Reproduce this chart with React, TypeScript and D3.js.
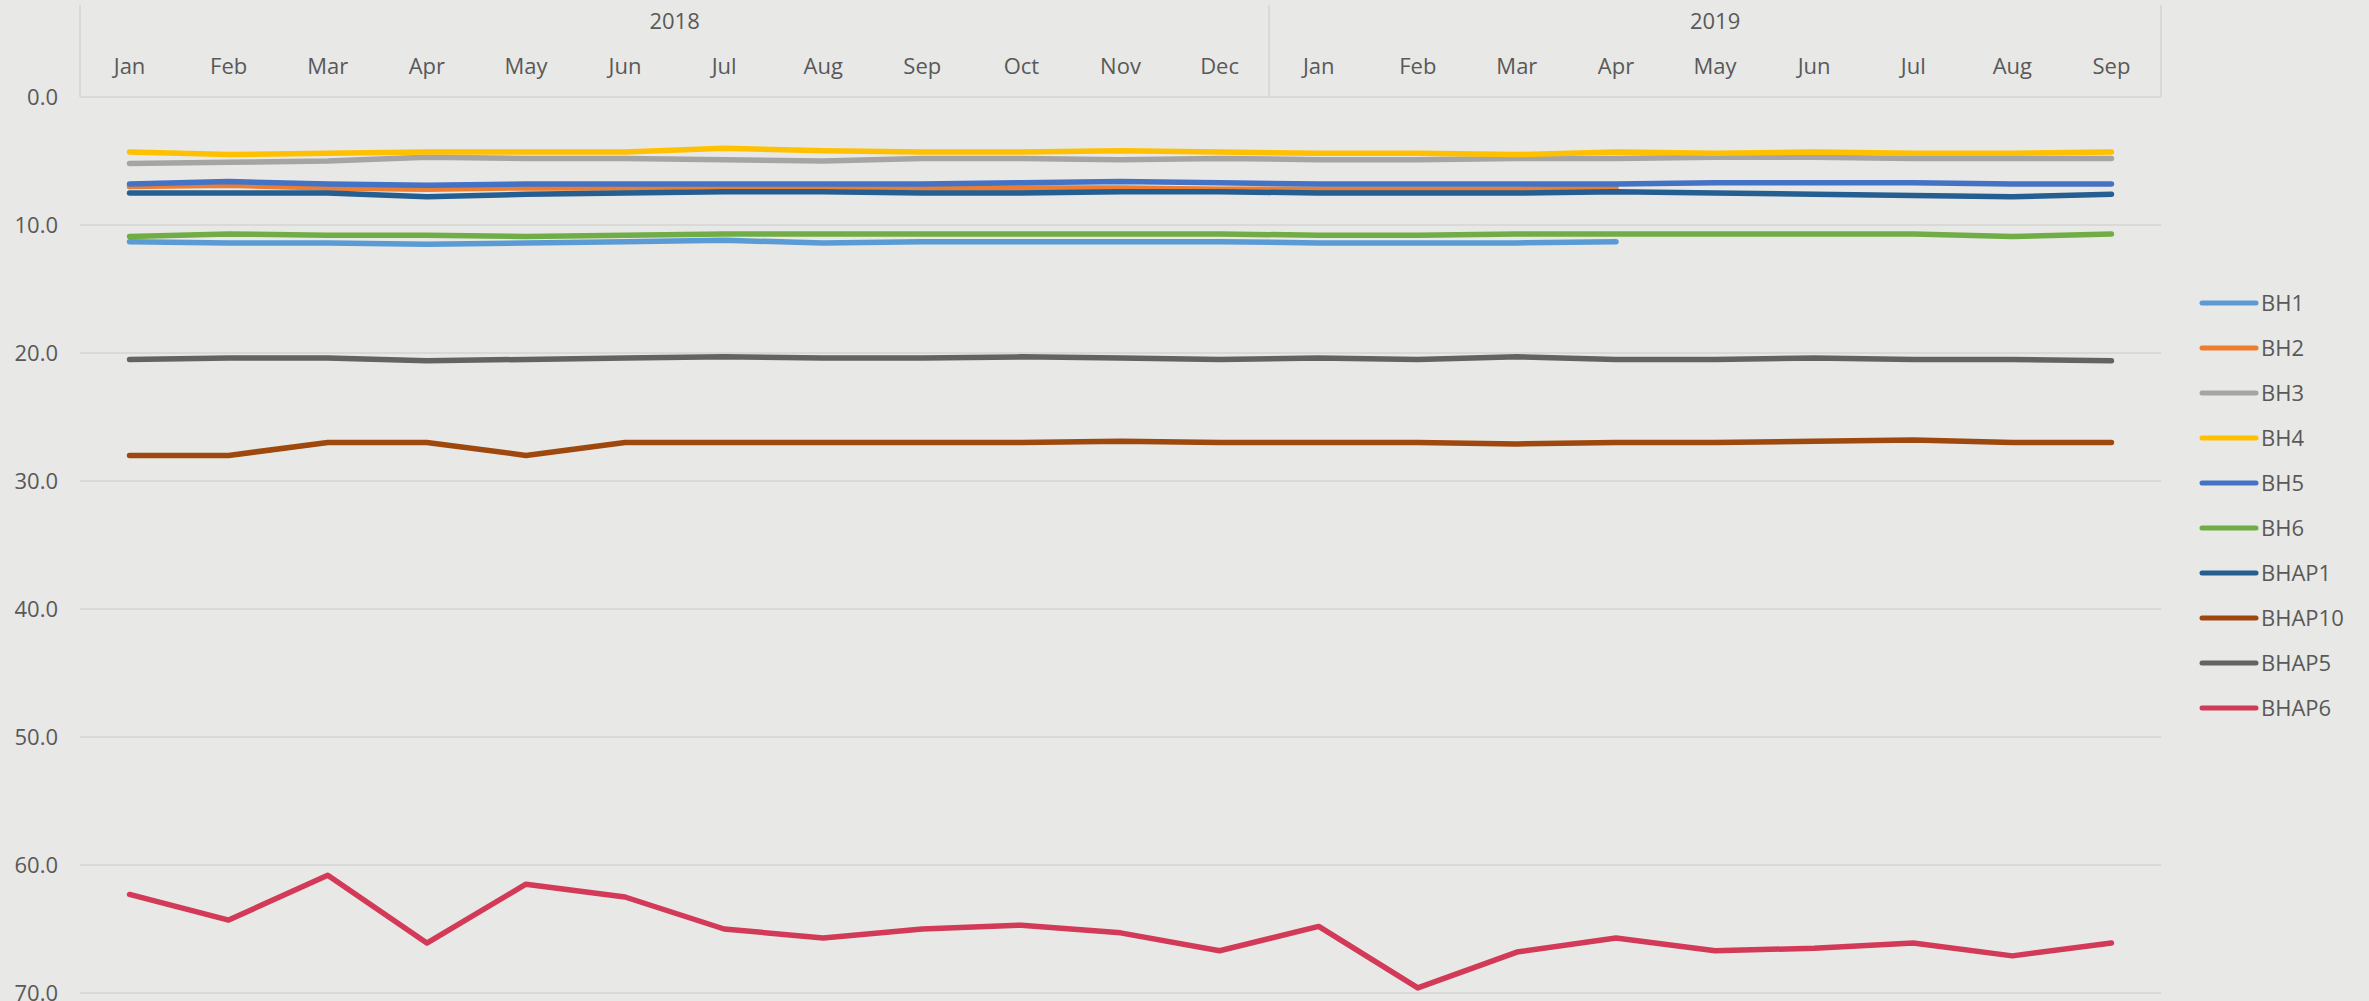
import { useRef, useEffect } from "react";
import { select, scaleBand, scaleLinear, line } from "d3";

const months = [
  "Jan", "Feb", "Mar", "Apr", "May", "Jun", "Jul", "Aug", "Sep", "Oct", "Nov", "Dec",
  "Jan", "Feb", "Mar", "Apr", "May", "Jun", "Jul", "Aug", "Sep",
];
const monthYears = [
  "2018", "2018", "2018", "2018", "2018", "2018", "2018", "2018", "2018", "2018", "2018", "2018",
  "2019", "2019", "2019", "2019", "2019", "2019", "2019", "2019", "2019",
];
const years = ["2018", "2019"];
const yTicks = [0, 10, 20, 30, 40, 50, 60, 70];

const seriesNames = ["BH1", "BH2", "BH3", "BH4", "BH5", "BH6", "BHAP1", "BHAP10", "BHAP5", "BHAP6"];
const seriesColors = [
  "#5B9BD5", "#ED7D31", "#A5A5A5", "#FFC000", "#4472C4",
  "#70AD47", "#255E91", "#9E480E", "#636363", "#D23A58",
];

const bh1 = [11.3, 11.4, 11.4, 11.5, 11.4, 11.3, 11.2, 11.4, 11.3, 11.3, 11.3, 11.3, 11.4, 11.4, 11.4, 11.3, null, null, null, null, null];
const bh2 = [7.0, 6.9, 7.1, 7.2, 7.1, 7.1, 7.0, 7.0, 7.1, 7.1, 7.1, 7.2, 7.2, 7.2, 7.2, 7.1, null, null, null, null, null];
const bh3 = [5.2, 5.1, 5.0, 4.7, 4.8, 4.8, 4.9, 5.0, 4.8, 4.8, 4.9, 4.8, 4.9, 4.9, 4.8, 4.8, 4.7, 4.7, 4.8, 4.8, 4.8];
const bh4 = [4.3, 4.5, 4.4, 4.3, 4.3, 4.3, 4.0, 4.2, 4.3, 4.3, 4.2, 4.3, 4.4, 4.4, 4.5, 4.3, 4.4, 4.3, 4.4, 4.4, 4.3];
const bh5 = [6.8, 6.6, 6.8, 6.9, 6.8, 6.8, 6.8, 6.8, 6.8, 6.7, 6.6, 6.7, 6.8, 6.8, 6.8, 6.8, 6.7, 6.7, 6.7, 6.8, 6.8];
const bh6 = [10.9, 10.7, 10.8, 10.8, 10.9, 10.8, 10.7, 10.7, 10.7, 10.7, 10.7, 10.7, 10.8, 10.8, 10.7, 10.7, 10.7, 10.7, 10.7, 10.9, 10.7];
const bhap1 = [7.5, 7.5, 7.5, 7.8, 7.6, 7.5, 7.4, 7.4, 7.5, 7.5, 7.4, 7.4, 7.5, 7.5, 7.5, 7.4, 7.5, 7.6, 7.7, 7.8, 7.6];
const bhap10 = [28.0, 28.0, 27.0, 27.0, 28.0, 27.0, 27.0, 27.0, 27.0, 27.0, 26.9, 27.0, 27.0, 27.0, 27.1, 27.0, 27.0, 26.9, 26.8, 27.0, 27.0];
const bhap5 = [20.5, 20.4, 20.4, 20.6, 20.5, 20.4, 20.3, 20.4, 20.4, 20.3, 20.4, 20.5, 20.4, 20.5, 20.3, 20.5, 20.5, 20.4, 20.5, 20.5, 20.6];
const bhap6 = [62.3, 64.3, 60.8, 66.1, 61.5, 62.5, 65.0, 65.7, 65.0, 64.7, 65.3, 66.7, 64.8, 69.6, 66.8, 65.7, 66.7, 66.5, 66.1, 67.1, 66.1];

const seriesValues = [bh1, bh2, bh3, bh4, bh5, bh6, bhap1, bhap10, bhap5, bhap6];

const width = 2369;
const height = 1001;
const left = 80;
const right = 2161;
const top = 97;
const bottom = 993;
const font = "'Open Sans', 'Noto Sans', sans-serif";
const textColor = "#595959";
const gridColor = "#D9D9D7";

function App() {
  const svgRef = useRef<SVGSVGElement>(null);

  useEffect(() => {
    document.body.style.margin = "0";
    const svg = select(svgRef.current);
    svg.selectAll("*").remove();

    const keys = months.map((m, i) => `${monthYears[i]}-${m}`);
    const x = scaleBand().domain(keys).range([left, right]);
    const y = scaleLinear().domain([0, 70]).range([top, bottom]);
    const bw = x.bandwidth();

    svg.append("rect").attr("width", width).attr("height", height).attr("fill", "#E8E8E6");

    // horizontal gridlines
    svg
      .append("g")
      .selectAll("line")
      .data(yTicks.slice(1))
      .enter()
      .append("line")
      .attr("x1", left)
      .attr("x2", right)
      .attr("y1", (d) => y(d))
      .attr("y2", (d) => y(d))
      .attr("stroke", gridColor)
      .attr("stroke-width", 2);

    // y labels
    svg
      .append("g")
      .selectAll("text")
      .data(yTicks)
      .enter()
      .append("text")
      .attr("x", 58)
      .attr("y", (d) => y(d))
      .attr("dy", "0.36em")
      .attr("text-anchor", "end")
      .attr("font-family", font)
      .attr("font-size", 22)
      .attr("fill", textColor)
      .text((d) => d.toFixed(1));

    // top category axis box
    const axis = svg.append("g");
    axis
      .append("line")
      .attr("x1", left)
      .attr("x2", right)
      .attr("y1", top)
      .attr("y2", top)
      .attr("stroke", gridColor)
      .attr("stroke-width", 2);

    const yearStarts = years.map((yr) => keys[monthYears.indexOf(yr)]);
    const dividers = [left, ...yearStarts.slice(1).map((k) => x(k)!), right];
    axis
      .selectAll("line.div")
      .data(dividers)
      .enter()
      .append("line")
      .attr("class", "div")
      .attr("x1", (d) => d)
      .attr("x2", (d) => d)
      .attr("y1", 5)
      .attr("y2", top)
      .attr("stroke", gridColor)
      .attr("stroke-width", 2);

    axis
      .selectAll("text.month")
      .data(keys)
      .enter()
      .append("text")
      .attr("class", "month")
      .attr("x", (k) => x(k)! + bw / 2)
      .attr("y", 74)
      .attr("text-anchor", "middle")
      .attr("font-family", font)
      .attr("font-size", 22)
      .attr("fill", textColor)
      .text((_, i) => months[i]);

    axis
      .selectAll("text.year")
      .data(years)
      .enter()
      .append("text")
      .attr("class", "year")
      .attr("x", (yr) => {
        const ks = keys.filter((_, i) => monthYears[i] === yr);
        return (x(ks[0])! + x(ks[ks.length - 1])! + bw) / 2;
      })
      .attr("y", 29)
      .attr("text-anchor", "middle")
      .attr("font-family", font)
      .attr("font-size", 22)
      .attr("fill", textColor)
      .text((yr) => yr);

    // series lines
    const lineGen = line<number | null>()
      .defined((d) => d != null)
      .x((_, i) => x(keys[i])! + bw / 2)
      .y((d) => y(d as number));

    svg
      .append("g")
      .selectAll("path")
      .data(seriesValues)
      .enter()
      .append("path")
      .attr("d", (d) => lineGen(d))
      .attr("fill", "none")
      .attr("stroke", (_, i) => seriesColors[i])
      .attr("stroke-width", 5.5)
      .attr("stroke-linecap", "round")
      .attr("stroke-linejoin", "round");

    // legend
    const legend = svg
      .append("g")
      .selectAll("g")
      .data(seriesNames)
      .enter()
      .append("g")
      .attr("transform", (_, i) => `translate(0, ${303 + i * 45})`);

    legend
      .append("line")
      .attr("x1", 2202)
      .attr("x2", 2256)
      .attr("stroke", (_, i) => seriesColors[i])
      .attr("stroke-width", 5)
      .attr("stroke-linecap", "round");

    legend
      .append("text")
      .attr("x", 2261)
      .attr("dy", "0.36em")
      .attr("font-family", font)
      .attr("font-size", 22)
      .attr("fill", textColor)
      .text((d) => d);
  }, []);

  return <svg ref={svgRef} width={width} height={height} style={{ display: "block" }} />;
}

export default App;
